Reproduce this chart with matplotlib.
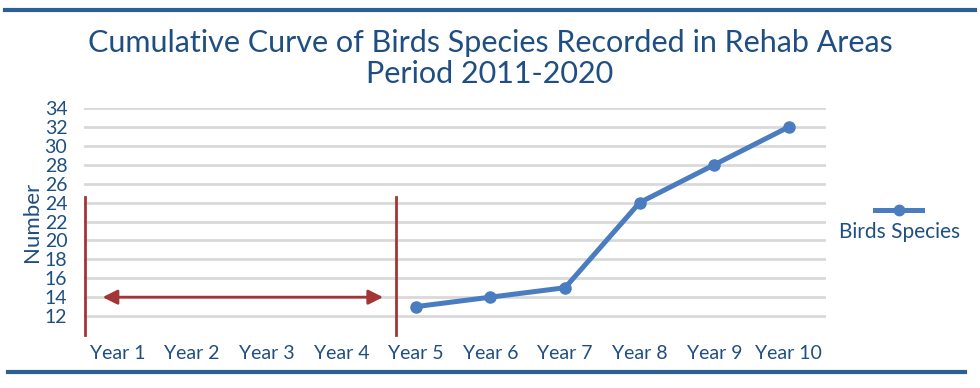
import matplotlib
matplotlib.use("Agg")
import matplotlib.pyplot as plt
from matplotlib.lines import Line2D

# data
years = ["Year 1", "Year 2", "Year 3", "Year 4", "Year 5",
         "Year 6", "Year 7", "Year 8", "Year 9", "Year 10"]
recorded_years = ["Year 5", "Year 6", "Year 7", "Year 8", "Year 9", "Year 10"]
species = [13, 14, 15, 24, 28, 32]
y_ticks = [12, 14, 16, 18, 20, 22, 24, 26, 28, 30, 32, 34]

TEXT = "#1f4f82"
LINE = "#4a7cc0"
RED = "#a23535"
GRID = "#d9d9d9"

plt.rcParams["font.family"] = ["Lato", "DejaVu Sans"]

fig = plt.figure(figsize=(9.8, 3.88), dpi=100)
ax = fig.add_axes([0.0857, 0.1366, 0.843 - 0.0857, 0.7216 - 0.1366])

xpos = [years.index(y) for y in recorded_years]
ax.plot(xpos, species, color=LINE, linewidth=3.6, marker="o",
        markersize=8, zorder=5, solid_capstyle="round")

ax.set_xlim(-0.45, 9.5)
ax.set_ylim(10, 34)
ax.set_xticks(range(len(years)))
ax.set_xticklabels(years)
ax.set_yticks(y_ticks)
for y in y_ticks:
    ax.axhline(y, color=GRID, linewidth=2, zorder=1)

for s in ax.spines.values():
    s.set_visible(False)
ax.tick_params(axis="both", length=0, colors=TEXT, labelsize=14)
ax.tick_params(axis="y", pad=12)
ax.tick_params(axis="x", pad=7)
ax.set_ylabel("Number", color=TEXT, fontsize=16, labelpad=2)

# period without records: bracket lines and double arrow
for xv in (-0.43, 3.73):
    ax.plot([xv, xv], [10, 24.6], color=RED, linewidth=2, zorder=4,
            clip_on=False)
ax.annotate("", xy=(3.56, 14), xytext=(-0.2, 14),
            arrowprops=dict(arrowstyle="<|-|>", color=RED, lw=2,
                            mutation_scale=22, shrinkA=0, shrinkB=0),
            zorder=4)

fig.text(0.5, 0.89, "Cumulative Curve of Birds Species Recorded in Rehab Areas",
         ha="center", va="center", color=TEXT, fontsize=22)
fig.text(0.5, 0.808, "Period 2011-2020", ha="center", va="center",
         color=TEXT, fontsize=22)

# legend drawn by hand: handle above the label
fig.add_artist(Line2D([875 / 980, 922 / 980], [1 - 210 / 388, 1 - 210 / 388],
                      color=LINE, linewidth=3.6, transform=fig.transFigure))
fig.add_artist(Line2D([898.5 / 980], [1 - 210 / 388], color=LINE,
                      marker="o", markersize=7.5, linestyle="none",
                      transform=fig.transFigure))
fig.text(900 / 980, 1 - 232 / 388, "Birds Species", ha="center", va="center",
         color=TEXT, fontsize=15)

# blue rules at top and bottom
fig.add_artist(Line2D([5 / 980, 975 / 980], [1 - 10 / 388, 1 - 10 / 388],
                      color="#2d5f93", linewidth=3, transform=fig.transFigure))
fig.add_artist(Line2D([8 / 980, 965 / 980], [1 - 372 / 388, 1 - 372 / 388],
                      color="#2d5f93", linewidth=3, transform=fig.transFigure))

fig.savefig("out.png", dpi=100)
